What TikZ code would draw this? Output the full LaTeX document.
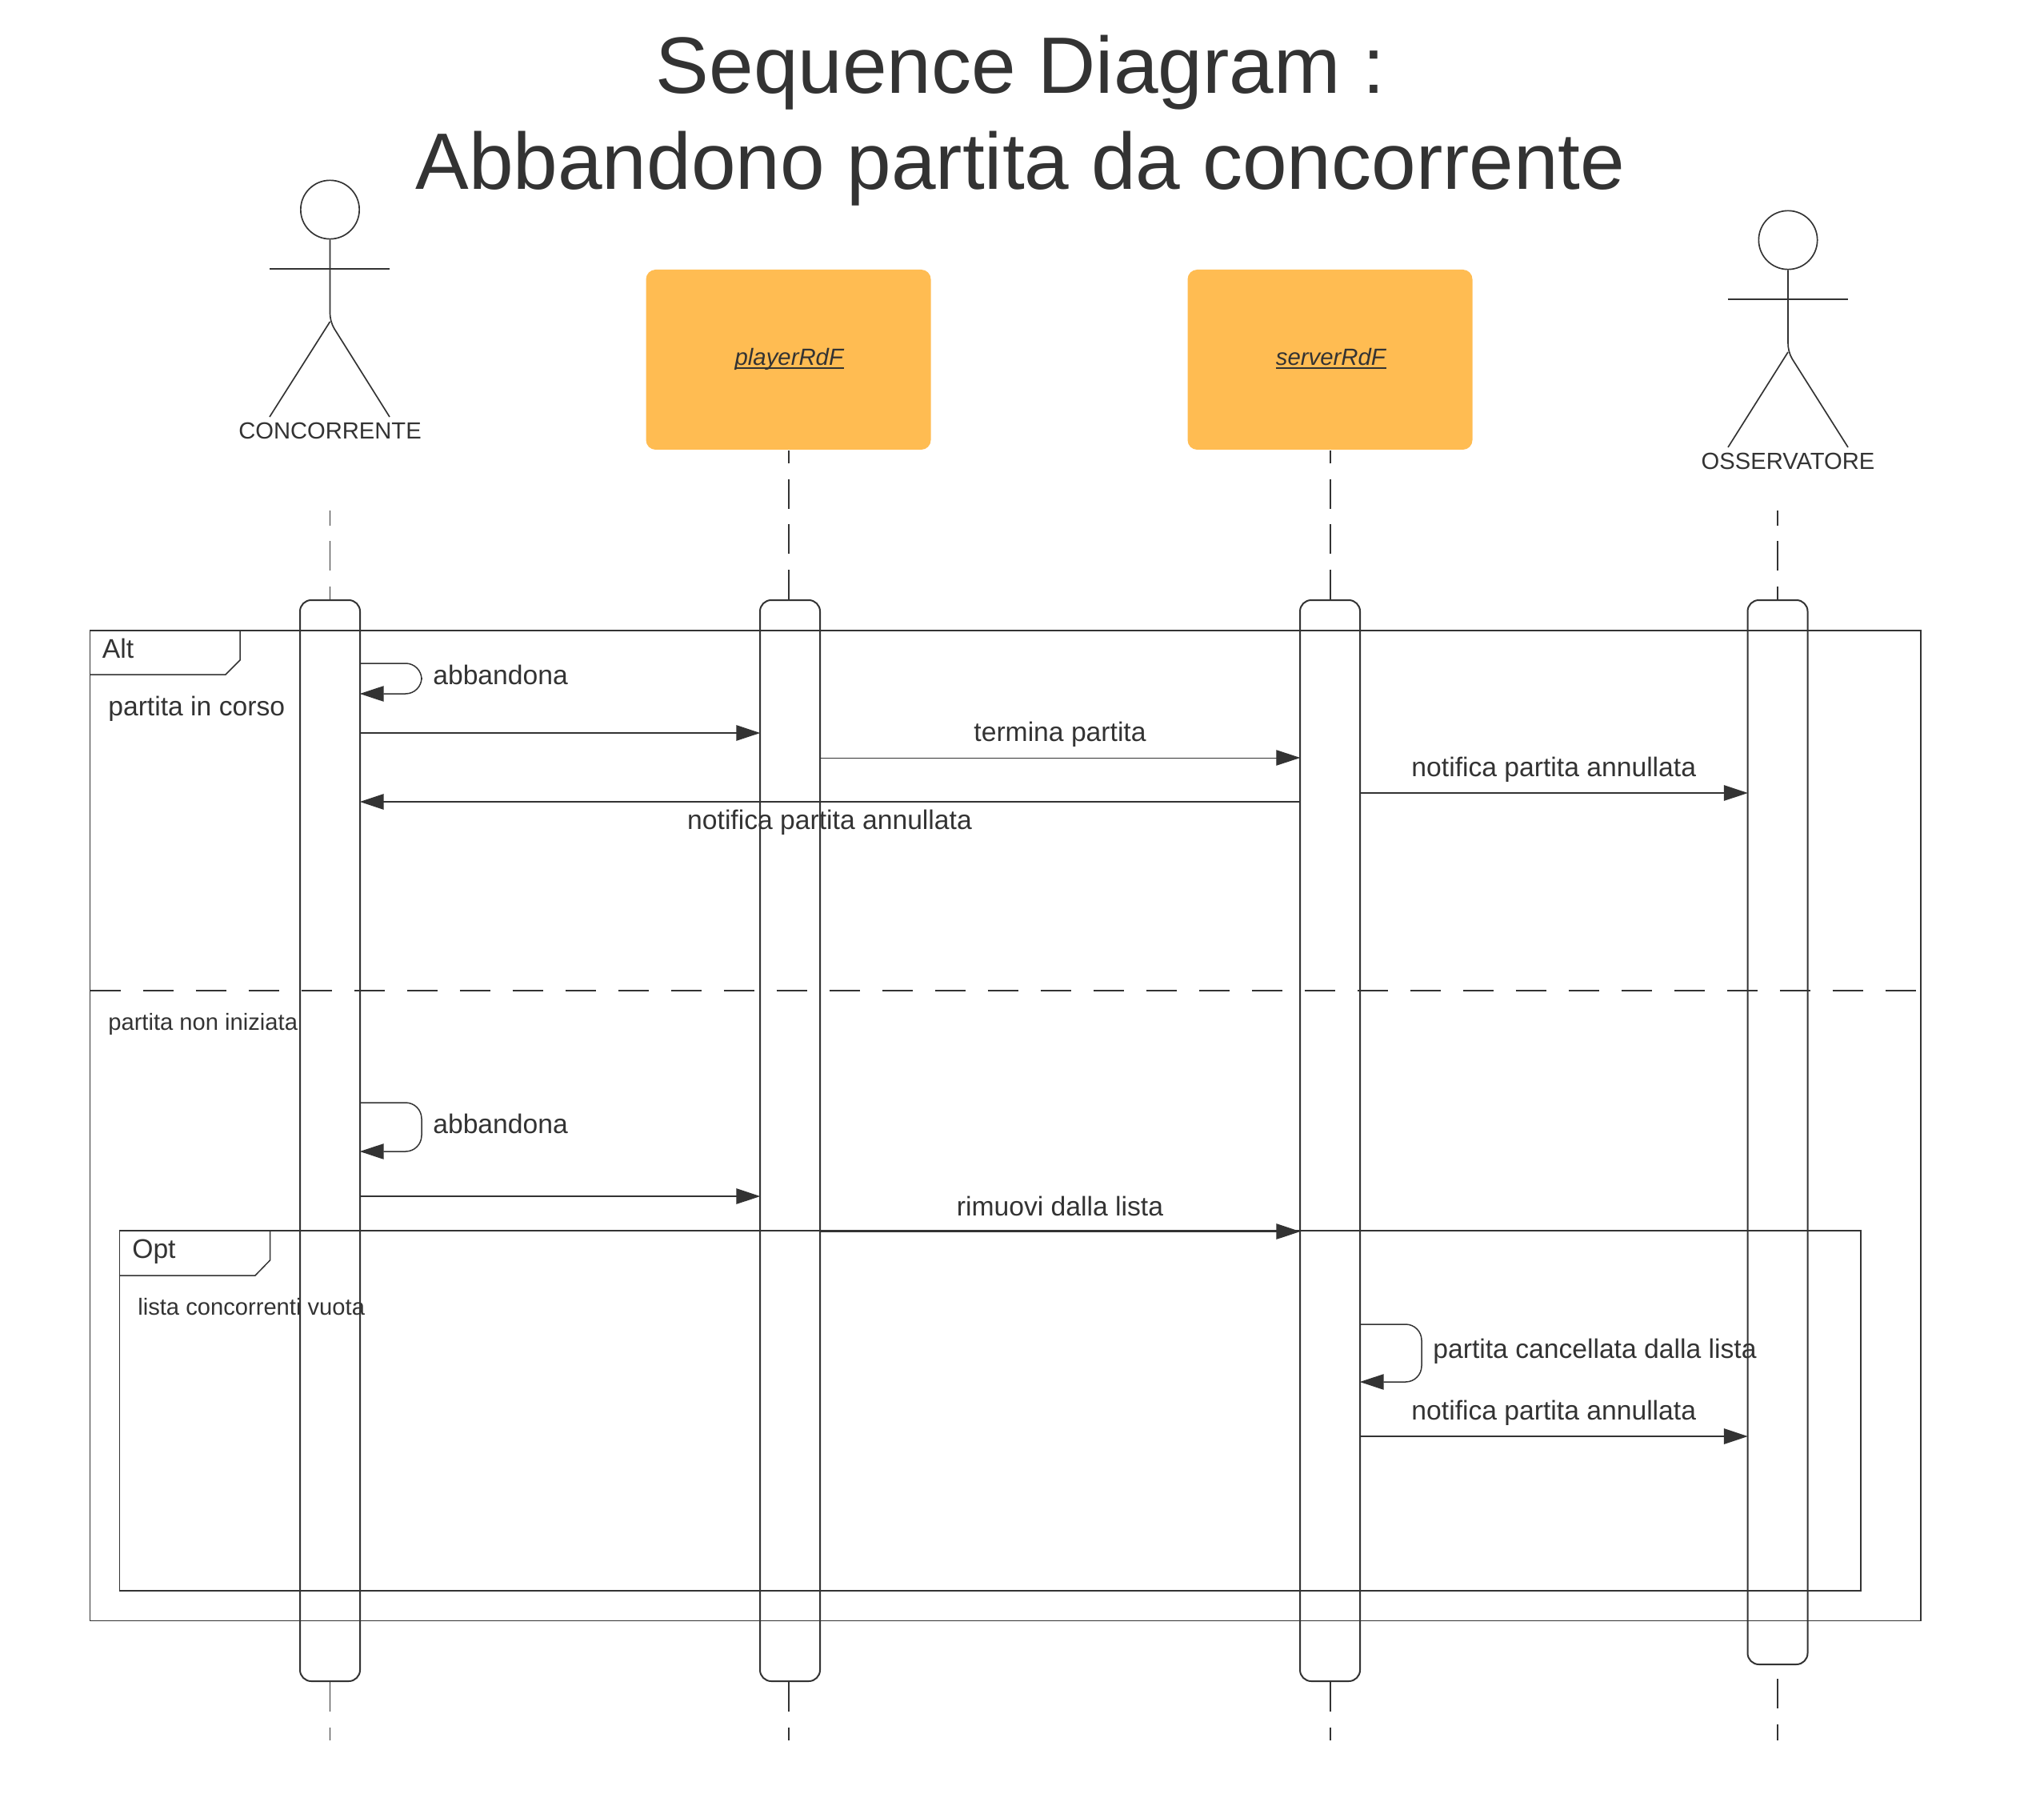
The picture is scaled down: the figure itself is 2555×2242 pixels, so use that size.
\documentclass[tikz,border=0pt]{standalone}
\usepackage{fontspec}
\setmainfont{Liberation Sans}
\usepackage{xcolor}
\usetikzlibrary{arrows.meta, positioning, calc}

\definecolor{ink}{HTML}{333333}
\definecolor{boxfill}{HTML}{FFBC52}

\newcommand{\objname}[1]{\hspace*{0.9pt}\setbox0\hbox{\textit{#1}}\copy0\llap{\rule[-1.3pt]{\wd0}{0.45pt}}}

\begin{document}
\begin{tikzpicture}[
		x=0.3pt, y=-0.3pt,
		color=ink,
		every node/.style={inner sep=0pt},
		line width=0.5pt,
		titletext/.style={font=\fontsize{30}{36}\selectfont},
		label/.style={font=\fontsize{10.1}{12}\selectfont},
		small/.style={font=\fontsize{8.75}{10.5}\selectfont},
		object/.style={fill=boxfill, rounded corners=3.6pt, minimum width=106.8pt, minimum height=67.5pt, font=\fontsize{8.8}{10.5}\selectfont, text height=7pt, text depth=2.8pt},
		activation/.style={draw, line width=0.6pt, rounded corners=4.2pt, minimum width=22.5pt, anchor=north},
		head/.style={draw, circle, minimum size=22pt},
		life/.style={line width=0.6pt, dash pattern=on 11.1pt off 5.85pt},
		thinlife/.style={life, line width=0.35pt},
		frame/.style={line width=0.45pt},
		msg/.style={line width=0.6pt, -{Triangle[length=9pt, width=5.8pt]}, shorten >=-0.4pt},
		selfmsg/.style={msg, line width=0.45pt, rounded corners=6pt}
		]
		\useasboundingbox (0,0) rectangle (2555,2242);
		
		% Title
		\node[titletext] (titleA) at (1275.5,91) {Sequence Diagram :};
		\node[titletext] (titleB) at (1275.5,211) {Abbandono partita da concorrente};
		
		% Objects
		\node[object] (player) at (985.5,449.5) {\objname{playerRdF}};
		\node[object] (server) at (1662.5,449.5) {\objname{serverRdF}};
		
		% Activations
		\node[activation, minimum height=405.3pt] (actConc) at (412.5,749) {};
		\node[activation, minimum height=405.3pt] (actPlayer) at (987.5,749) {};
		\node[activation, minimum height=405.3pt] (actServer) at (1662.5,749) {};
		\node[activation, minimum height=399pt] (actObs) at (2222,749) {};
		
		% Left actor
		\node[head] (headConc) at (412.5,262) {};
		\draw (headConc.south) -- (412.5,390) .. controls (412.5,398) and (414,404) .. (418,411) -- (487,521);
		\draw (337,336) -- (487,336);
		\draw (412.5,402) -- (337,521);
		\node[small] (nameConc) at (412.5,538.5) {CONCORRENTE};
		
		% Right actor
		\node[head] (headObs) at (2235,300) {};
		\draw (headObs.south) -- (2235,428) .. controls (2235,436) and (2236.5,442) .. (2240.5,449) -- (2310,559);
		\draw (2160,374) -- (2310,374);
		\draw (2235,440) -- (2160,559);
		\node[small] (nameObs) at (2235,576) {OSSERVATORE};
		
		% Lifelines
		\coordinate (topConc) at (412.5,638);
		\coordinate (botConc) at (412.5,2175);
		\coordinate (botPlayer) at (985.5,2175);
		\coordinate (botServer) at (1662.5,2175);
		\coordinate (topObs) at (2222,638);
		\coordinate (botObs) at (2222,2175);
		\coordinate (startObs) at (2222,2098);
		\draw[thinlife, dash phase=5.4pt] (topConc) -- (actConc.north);
		\draw[thinlife] (actConc.south) -- (botConc);
		\draw[life] (player.south |- actPlayer.north) -- (player.south);
		\draw[life] (player.south |- actPlayer.south) -- (botPlayer);
		\draw[life] (actServer.north) -- (server.south);
		\draw[life] (actServer.south) -- (botServer);
		\draw[life, dash phase=5.4pt] (topObs) -- (actObs.north);
		\draw[life] (startObs) -- (botObs);
		
		% Alt frame
		\draw[frame] (112.5,788) rectangle (2401,2025.5);
		\draw[frame] (300,788) -- (300,825) -- (282,843) -- (112.5,843);
		\node[label, anchor=west] (altName) at (127,810.5) {Alt};
		\node[label, anchor=west] (altFirst) at (134.5,886) {partita in corso};
		\node[small, anchor=west] (altSecond) at (134.5,1280) {partita non iniziata};
		\draw[frame, line width=0.4pt, dash pattern=on 11.4pt off 8.4pt] (112.5,1238) -- (2401,1238);
		
		% Opt frame
		\draw[frame] (149.5,1538) rectangle (2326,1988);
		\draw[frame] (337.5,1538) -- (337.5,1575) -- (319,1594) -- (149.5,1594);
		\node[label, anchor=west] (optName) at (164.5,1564) {Opt};
		\node[small, anchor=west] (optFirst) at (171.5,1633) {lista concorrenti vuota};
		
		% First branch
		\draw[selfmsg] (actConc.east |- 0,829) -- ++(76,0) |- (actConc.east |- 0,867);
		\node[label, anchor=west] (quitA) at (540.5,843.5) {abbandona};
		\draw[msg] (actConc.east |- 0,916) -- (actPlayer.west |- 0,916);
		\draw[msg, line width=0.3pt] (actPlayer.east |- 0,947) -- node[label, above=4pt] (msgEnd) {termina partita} (actServer.west |- 0,947);
		\draw[msg] (actServer.east |- 0,991) -- node[label, above=3.7pt] (msgNotifyA) {notifica partita annullata} (actObs.west |- 0,991);
		\draw[msg] (actServer.west |- 0,1002) -- (actConc.east |- 0,1002);
		\node[label] (msgNotifyB) at (1037,1028) {notifica partita annullata};
		
		% Second branch
		\draw[selfmsg] (actConc.east |- 0,1378) -- ++(76,0) |- (actConc.east |- 0,1439);
		\node[label, anchor=west] (quitB) at (540.5,1404) {abbandona};
		\draw[msg] (actConc.east |- 0,1495) -- (actPlayer.west |- 0,1495);
		\draw[msg] (actPlayer.east |- 0,1539) -- node[label, above=5.4pt] (msgRemove) {rimuovi dalla lista} (actServer.west |- 0,1539);
		\draw[selfmsg] (actServer.east |- 0,1655) -- ++(76,0) |- (actServer.east |- 0,1727);
		\node[label, anchor=west] (msgDeleted) at (1790.5,1689) {partita cancellata dalla lista};
		\draw[msg] (actServer.east |- 0,1795) -- node[label, above=3.7pt] (msgNotifyC) {notifica partita annullata} (actObs.west |- 0,1795);
		
	\end{tikzpicture}
\end{document}
